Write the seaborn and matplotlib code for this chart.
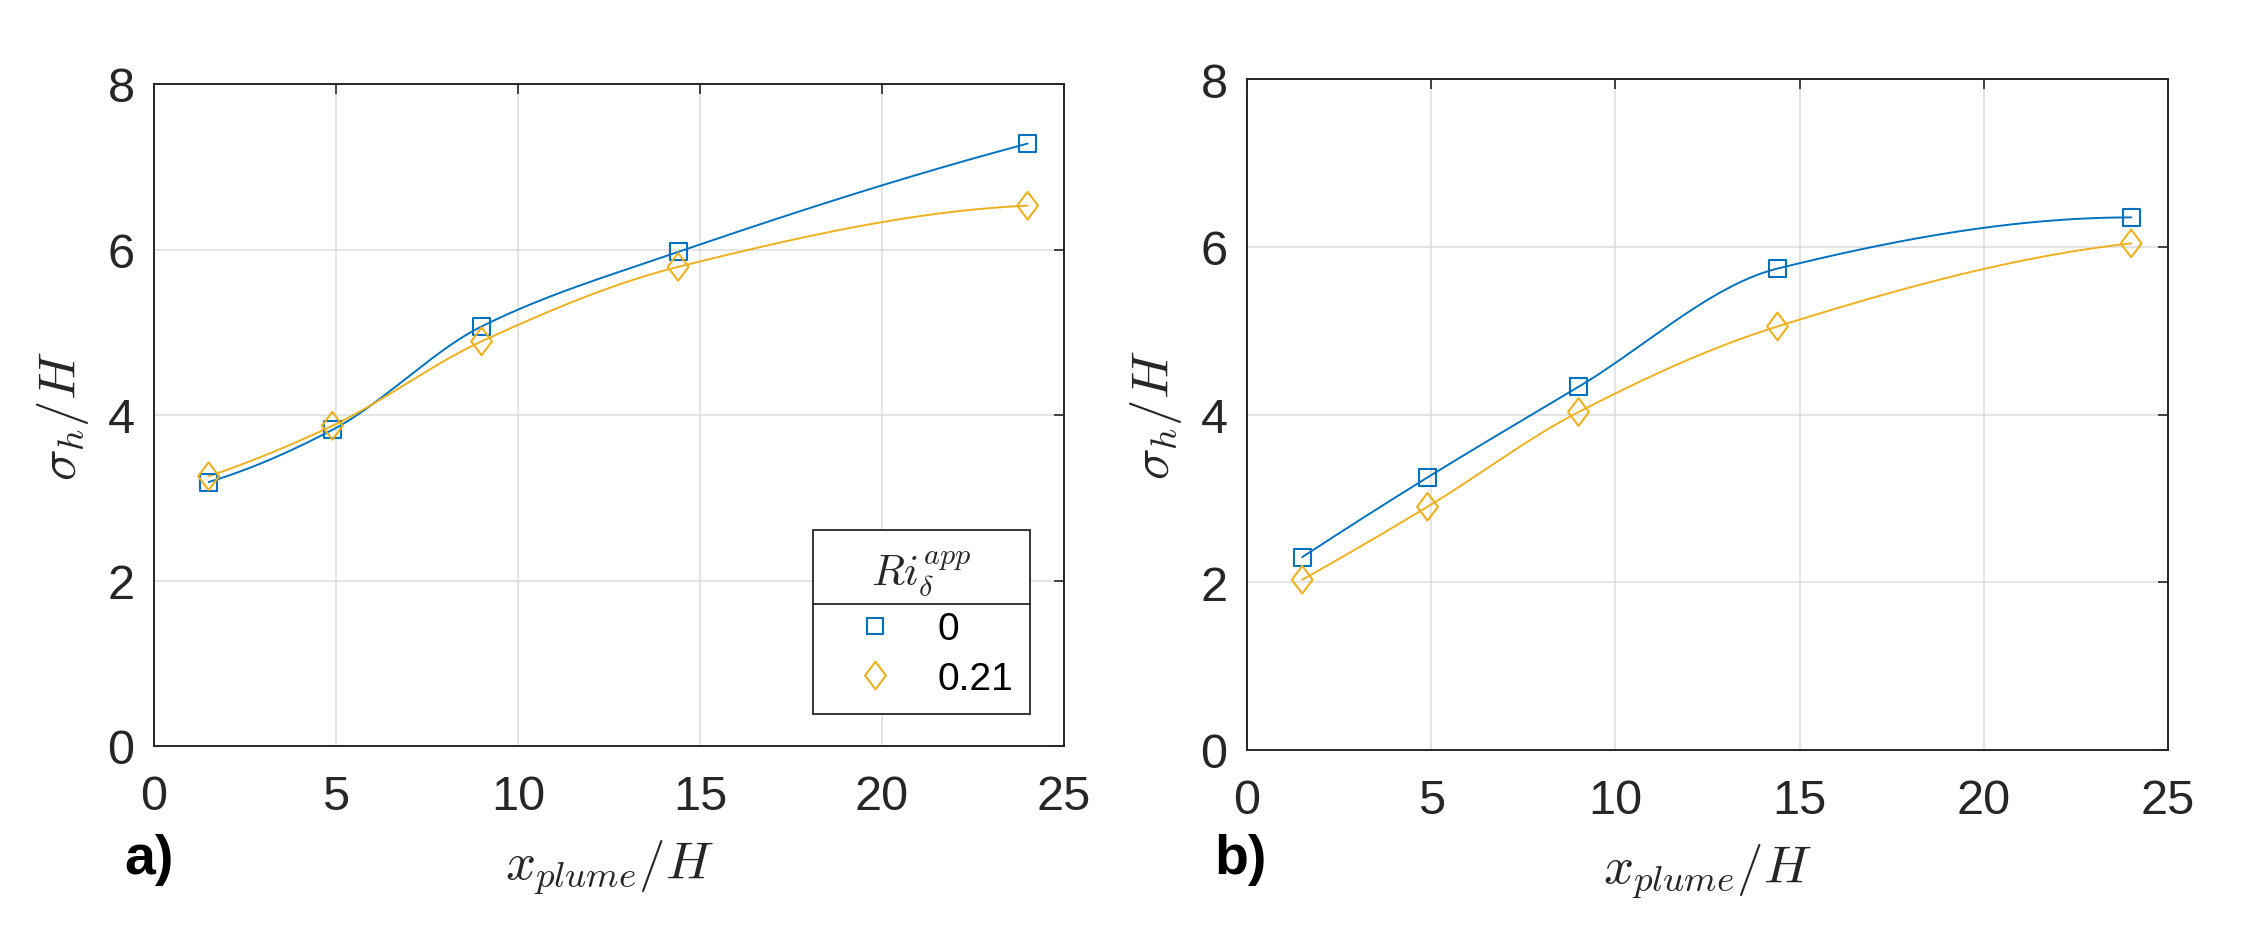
import numpy as np
import pandas as pd
import matplotlib
matplotlib.use("Agg")
import matplotlib.pyplot as plt
from matplotlib.path import Path
from matplotlib.lines import Line2D
import seaborn as sns

# ---------------- data ----------------
x_plume = [1.5, 4.9, 9.0, 14.4, 24.0]
a_ri0 = [3.19, 3.82, 5.07, 5.97, 7.28]
a_ri021 = [3.26, 3.87, 4.89, 5.79, 6.53]
b_ri0 = [2.30, 3.25, 4.33, 5.74, 6.35]
b_ri021 = [2.03, 2.90, 4.03, 5.05, 6.04]
legend_labels = ["0", "0.21"]
xticks = [0, 5, 10, 15, 20, 25]
yticks = [0, 2, 4, 6, 8]

BLUE = "#0072BD"
ORANGE = "#EDB120"
DARK = "#262626"

sns.set_theme(style="white")
plt.rcParams["font.family"] = ["Liberation Sans", "DejaVu Sans"]
plt.rcParams["mathtext.fontset"] = "cm"


def pchip(x, y, xn):
    x = np.asarray(x, float)
    y = np.asarray(y, float)
    h = np.diff(x)
    delta = np.diff(y) / h
    n = len(x)
    d = np.zeros(n)
    for k in range(1, n - 1):
        if delta[k - 1] * delta[k] > 0:
            w1 = 2 * h[k] + h[k - 1]
            w2 = h[k] + 2 * h[k - 1]
            d[k] = (w1 + w2) / (w1 / delta[k - 1] + w2 / delta[k])

    def end(h0, h1, d0, d1):
        v = ((2 * h0 + h1) * d0 - h0 * d1) / (h0 + h1)
        if np.sign(v) != np.sign(d0):
            v = 0.0
        elif np.sign(d0) != np.sign(d1) and abs(v) > abs(3 * d0):
            v = 3 * d0
        return v

    d[0] = end(h[0], h[1], delta[0], delta[1])
    d[-1] = end(h[-1], h[-2], delta[-1], delta[-2])
    xn = np.asarray(xn, float)
    idx = np.clip(np.searchsorted(x, xn) - 1, 0, n - 2)
    t = (xn - x[idx]) / h[idx]
    h00 = 2 * t**3 - 3 * t**2 + 1
    h10 = t**3 - 2 * t**2 + t
    h01 = -2 * t**3 + 3 * t**2
    h11 = t**3 - t**2
    return (h00 * y[idx] + h10 * h[idx] * d[idx] + h01 * y[idx + 1]
            + h11 * h[idx] * d[idx + 1])


diamond = Path([(0, 1), (0.75, 0), (0, -1), (-0.75, 0), (0, 1)],
               [Path.MOVETO, Path.LINETO, Path.LINETO, Path.LINETO, Path.CLOSEPOLY])

W, H = 2244, 945
fig = plt.figure(figsize=(W / 100, H / 100), dpi=100)
fig.patch.set_facecolor("white")


def px_axes(l, t, r, b):
    return fig.add_axes([l / W, 1 - b / H, (r - l) / W, (b - t) / H])


ax_a = px_axes(154, 85, 1064, 747)
ax_b = px_axes(1247, 80, 2168, 751)


def draw_panel(ax, y0, y1):
    xs = np.linspace(x_plume[0], x_plume[-1], 400)
    for yv, col, mk, s in [(y0, BLUE, "s", 150), (y1, ORANGE, diamond, 400)]:
        sm = pd.DataFrame({"x": xs, "y": pchip(x_plume, yv, xs)})
        sns.lineplot(data=sm, x="x", y="y", ax=ax, color=col, lw=1.4,
                     sort=False, estimator=None)
        pts = pd.DataFrame({"x": x_plume, "y": yv})
        sns.scatterplot(data=pts, x="x", y="y", ax=ax, marker=mk, s=s,
                        facecolors="none", edgecolor=col, linewidths=1.5,
                        zorder=3)
    ax.set_xlim(0, 25)
    ax.set_ylim(0, 8)
    ax.set_xticks(xticks)
    ax.set_yticks(yticks)
    ax.grid(True, color="#DCDCDC", lw=1.1)
    ax.set_axisbelow(True)
    ax.tick_params(axis="both", which="both", direction="in", top=True,
                   right=True, length=7, width=1.2, color=DARK,
                   labelsize=35, labelcolor=DARK)
    ax.tick_params(axis="x", pad=20)
    ax.tick_params(axis="y", pad=14)
    for sp in ax.spines.values():
        sp.set_color(DARK)
        sp.set_linewidth(1.4)
        sp.set_visible(True)
    ax.set_xlabel(r"$x_{plume}/H$", fontsize=38, color=DARK, labelpad=13)
    ax.set_ylabel(r"$\sigma_h/H$", fontsize=38, color=DARK, labelpad=12)


draw_panel(ax_a, a_ri0, a_ri021)
draw_panel(ax_b, b_ri0, b_ri021)

handles = [
    Line2D([], [], ls="none", marker="s", ms=12.2, mfc="none", mec=BLUE, mew=1.5),
    Line2D([], [], ls="none", marker=diamond, ms=20, mfc="none", mec=ORANGE, mew=1.5),
]
leg = ax_a.legend(handles, legend_labels, title=r"$Ri_{\delta}^{app}$",
                  loc="lower right", bbox_to_anchor=(0.963, 0.048),
                  fontsize=28, title_fontsize=31, frameon=True, fancybox=False,
                  edgecolor=DARK, framealpha=1, borderpad=0.45,
                  labelspacing=0.35, handlelength=2.3, handletextpad=0.45,
                  borderaxespad=0)
leg.get_frame().set_linewidth(1.3)
for t in leg.get_texts():
    t.set_color("black")

fig.text(124 / W, 1 - 860 / H, "a)", fontsize=40, fontweight="bold",
         va="center", ha="left", color="black")
fig.text(1214 / W, 1 - 860 / H, "b)", fontsize=40, fontweight="bold",
         va="center", ha="left", color="black")

# separator between legend title and entries
fig.canvas.draw()
r = fig.canvas.get_renderer()
fb = leg.get_frame().get_window_extent(r)
tb = leg.get_title().get_window_extent(r)
eb = leg.get_texts()[0].get_window_extent(r)
ysep = (tb.y0 + eb.y1) / 2
fig.add_artist(Line2D([fb.x0 / W, fb.x1 / W], [ysep / H, ysep / H],
                      color=DARK, lw=1.3, transform=fig.transFigure))

fig.savefig("out.png", dpi=100, facecolor="white")
